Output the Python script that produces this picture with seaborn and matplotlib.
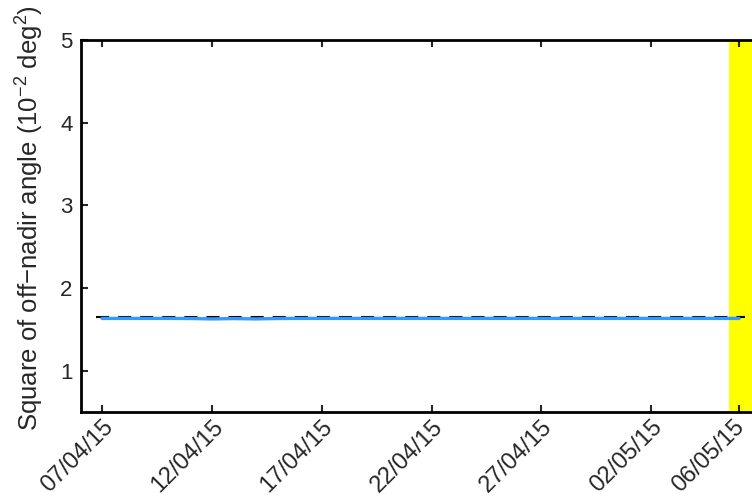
import matplotlib
matplotlib.use("Agg")
import matplotlib.pyplot as plt
import matplotlib.transforms as mtransforms
import pandas as pd
import seaborn as sns

# ── Data ──────────────────────────────────────────────────────────────────────
days = pd.date_range("2015-04-07", "2015-05-06", freq="D")
offnadir_sq = [1.632, 1.632, 1.632, 1.632, 1.631, 1.626, 1.630, 1.626, 1.631, 1.632,
               1.632, 1.632, 1.632, 1.632, 1.632, 1.632, 1.632, 1.632, 1.632, 1.632,
               1.632, 1.632, 1.632, 1.632, 1.632, 1.632, 1.632, 1.632, 1.632, 1.632]
ref_dates = [pd.Timestamp("2015-04-06 17:00"), pd.Timestamp("2015-05-06 07:00")]
ref_level = [1.652, 1.652]
span_start = pd.Timestamp("2015-05-05 13:00")
span_end = pd.Timestamp("2015-05-09")
tick_dates = pd.to_datetime(["2015-04-07", "2015-04-12", "2015-04-17", "2015-04-22",
                             "2015-04-27", "2015-05-02", "2015-05-06"])
tick_labels = ["07/04/15", "12/04/15", "17/04/15", "22/04/15",
               "27/04/15", "02/05/15", "06/05/15"]

df = pd.DataFrame({"date": days, "value": offnadir_sq})

# ── Style ─────────────────────────────────────────────────────────────────────
sns.set_style("ticks")
plt.rcParams["font.family"] = ["Liberation Sans", "DejaVu Sans"]
plt.rcParams["mathtext.fontset"] = "custom"
plt.rcParams["mathtext.rm"] = "Liberation Sans"
plt.rcParams["mathtext.it"] = "Liberation Sans:italic"

fig = plt.figure(figsize=(7.52, 5.01), dpi=100)
# axes runs past the right edge of the figure (cropped like the original)
ax = fig.add_axes([81 / 752, 89 / 501, 680 / 752, 372 / 501])

ax.axvspan(span_start, span_end, color="#ffff00", zorder=0, lw=0)
ax.plot(ref_dates, ref_level, color="black", lw=1.5, ls=(0, (6.3, 4.3)), zorder=2)
sns.lineplot(data=df, x="date", y="value", ax=ax, color="#3399ff", lw=2.4, zorder=3)

ax.set_xlim(pd.Timestamp("2015-04-06 01:00"), pd.Timestamp("2015-05-07 00:00"))
ax.set_ylim(0.5, 5)
ax.set_yticks([1, 2, 3, 4, 5])
ax.set_xticks(tick_dates)
ax.set_xticklabels(tick_labels, rotation=45, ha="right", va="top",
                   rotation_mode="anchor", fontsize=17)
ax.tick_params(axis="y", labelsize=16, pad=6)
ax.tick_params(axis="x", pad=3)
ax.tick_params(direction="in", length=5, width=1.5, top=True, right=True)

# tick_params resets label transforms, so nudge the last label in afterwards
last = ax.get_xticklabels()[-1]
nudge = mtransforms.ScaledTranslation(-6 / 100, 0, fig.dpi_scale_trans)
last.set_transform(last.get_transform() + nudge)

for side in ["left", "top", "bottom", "right"]:
    ax.spines[side].set_linewidth(2)
    ax.spines[side].set_color("black")
    ax.spines[side].set_visible(True)

ax.set_xlabel("")
ax.set_ylabel("Square of off\u2212nadir angle (10$^{-2}$ deg$^{2}$)", fontsize=18.5)
ax.yaxis.set_label_coords(-0.051, 0.52)

fig.savefig("out.png", dpi=100)
